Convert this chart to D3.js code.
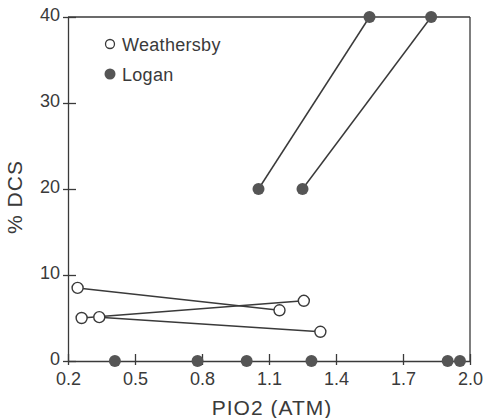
<!DOCTYPE html>
<html>
<head>
<meta charset="utf-8">
<script src="https://cdn.jsdelivr.net/npm/d3@7"></script>
<style>
body { margin: 0; background: #fff; }
text { font-family: "Liberation Sans", "DejaVu Sans", sans-serif; fill: #3a3a3a; }
</style>
</head>
<body>
<div id="chart"></div>
<script>
// data
var xTicks = [0.2, 0.5, 0.8, 1.1, 1.4, 1.7, 2.0];
var yTicks = [0, 10, 20, 30, 40];

// Weathersby (open circles), pairs joined by a line
var weathersbyPairs = [
    [[0.243, 8.5], [1.147, 5.9]],
    [[0.261, 5.0], [1.256, 7.0]],
    [[0.34, 5.1], [1.33, 3.4]]
];
// Logan (filled circles)
var loganPairs = [
    [[1.053, 20], [1.55, 40]],
    [[1.25, 20], [1.826, 40]]
];
var loganZero = [0.41, 0.78, 1.0, 1.29, 1.90, 1.955];

var svg = d3.select("#chart").append("svg")
    .attr("width", 484).attr("height", 418);

var margin = {top: 17, left: 68, right: 14, bottom: 57};
var width = 484 - margin.left - margin.right,
    height = 418 - margin.top - margin.bottom;

var g = svg.append("g")
    .attr("transform", "translate(" + margin.left + "," + margin.top + ")");

var x = d3.scaleLinear().domain([0.2, 2.0]).range([0, width]);
var y = d3.scaleLinear().domain([0, 40]).range([height, 0]);

var ink = "#3a3a3a";

// frame top and right
g.append("line").attr("x1", 0).attr("y1", 0).attr("x2", width).attr("y2", 0)
    .attr("stroke", ink).attr("stroke-width", 1.3);
g.append("line").attr("x1", width).attr("y1", 0).attr("x2", width).attr("y2", height)
    .attr("stroke", ink).attr("stroke-width", 1.3);

// axes
var xAxis = d3.axisBottom(x).tickValues(xTicks).tickSizeInner(-7).tickSizeOuter(0)
    .tickFormat(function(d){ return d3.format(".1f")(d); });
var yAxis = d3.axisLeft(y).tickValues(yTicks).tickSizeInner(-8).tickSizeOuter(0)
    .tickFormat(d3.format("d"));

var gx = g.append("g").attr("transform", "translate(0," + height + ")").call(xAxis);
var gy = g.append("g").call(yAxis);

[gx, gy].forEach(function(a){
    a.select(".domain").attr("stroke", ink).attr("stroke-width", 1.3);
    a.selectAll(".tick line").attr("stroke", ink).attr("stroke-width", 1.3);
    a.selectAll("text").style("font-size", "18px").attr("fill", "#444");
});
// ticks cross the axis slightly on the outside
gx.selectAll(".tick").append("line").attr("y1", 0).attr("y2", 4)
    .attr("stroke", ink).attr("stroke-width", 1.3);
gy.selectAll(".tick").append("line").attr("x1", 0).attr("x2", -5)
    .attr("stroke", ink).attr("stroke-width", 1.3);
gx.selectAll(".tick text").attr("y", 11.5).attr("dy", "0.71em");
gy.selectAll(".tick text").attr("x", -8).attr("dy", "0.22em");

// axis titles
svg.append("text")
    .attr("x", 272).attr("y", 415)
    .attr("text-anchor", "middle")
    .style("font-size", "21px")
    .style("letter-spacing", "1px")
    .text("PIO2 (ATM)");
svg.append("text")
    .attr("transform", "translate(22,197) rotate(-90)")
    .attr("text-anchor", "middle")
    .style("font-size", "21px")
    .style("letter-spacing", "1px")
    .text("% DCS");

// lines
var line = d3.line().x(function(d){ return x(d[0]); }).y(function(d){ return y(d[1]); });
g.selectAll(".wline").data(weathersbyPairs).enter().append("path")
    .attr("class", "wline").attr("d", line)
    .attr("fill", "none").attr("stroke", ink).attr("stroke-width", 1.5);
g.selectAll(".lline").data(loganPairs).enter().append("path")
    .attr("class", "lline").attr("d", line)
    .attr("fill", "none").attr("stroke", ink).attr("stroke-width", 1.5);

// points
var wPts = [].concat.apply([], weathersbyPairs);
var lPts = [].concat.apply([], loganPairs).concat(loganZero.map(function(v){ return [v, 0]; }));

g.selectAll(".wpt").data(wPts).enter().append("circle")
    .attr("class", "wpt")
    .attr("cx", function(d){ return x(d[0]); })
    .attr("cy", function(d){ return y(d[1]); })
    .attr("r", 5.5)
    .attr("fill", "#fff").attr("stroke", ink).attr("stroke-width", 1.4);
g.selectAll(".lpt").data(lPts).enter().append("circle")
    .attr("class", "lpt")
    .attr("cx", function(d){ return x(d[0]); })
    .attr("cy", function(d){ return y(d[1]); })
    .attr("r", 6)
    .attr("fill", "#555");

// legend
var leg = svg.append("g");
leg.append("circle").attr("cx", 110).attr("cy", 44).attr("r", 4.5)
    .attr("fill", "#fff").attr("stroke", ink).attr("stroke-width", 1.3);
leg.append("text").attr("x", 122).attr("y", 51).style("font-size", "18px")
    .style("letter-spacing", "0.3px").text("Weathersby");
leg.append("circle").attr("cx", 110).attr("cy", 74).attr("r", 5.5).attr("fill", "#555");
leg.append("text").attr("x", 122).attr("y", 81).style("font-size", "18px")
    .style("letter-spacing", "0.3px").text("Logan");
</script>
</body>
</html>
